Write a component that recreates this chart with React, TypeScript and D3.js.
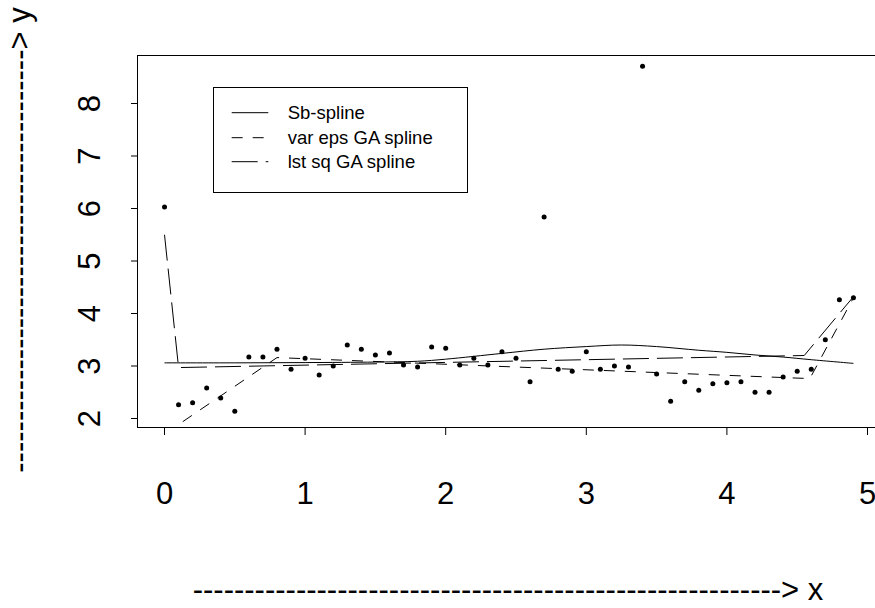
import React from 'react';
import * as d3 from 'd3';

// ---- data ----
const pointX = [0, 0.1, 0.2, 0.3, 0.4, 0.5, 0.6, 0.7, 0.8, 0.9,
  1.0, 1.1, 1.2, 1.3, 1.4, 1.5, 1.6, 1.7, 1.8, 1.9,
  2.0, 2.1, 2.2, 2.3, 2.4, 2.5, 2.6, 2.7, 2.8, 2.9,
  3.0, 3.1, 3.2, 3.3, 3.4, 3.5, 3.6, 3.7, 3.8, 3.9,
  4.0, 4.1, 4.2, 4.3, 4.4, 4.5, 4.6, 4.7, 4.8, 4.9];
const pointY = [6.03, 2.26, 2.30, 2.58, 2.39, 2.14, 3.17, 3.17, 3.32, 2.94,
  3.15, 2.83, 3.00, 3.40, 3.32, 3.21, 3.25, 3.02, 2.98, 3.36,
  3.34, 3.02, 3.15, 3.02, 3.27, 3.15, 2.70, 5.84, 2.94, 2.90,
  3.27, 2.94, 3.00, 2.98, 8.71, 2.85, 2.33, 2.70, 2.54, 2.66,
  2.68, 2.70, 2.50, 2.50, 2.79, 2.90, 2.94, 3.50, 4.26, 4.30];

const sbX = [0, 0.5, 1.0, 1.5, 1.8, 2.0, 2.4, 2.7, 3.0, 3.25, 3.5, 3.8, 4.0, 4.2, 4.4, 4.6, 4.9];
const sbY = [3.06, 3.06, 3.065, 3.075, 3.09, 3.13, 3.24, 3.32, 3.37, 3.40, 3.37, 3.30, 3.26, 3.21, 3.17, 3.12, 3.05];

const varEpsX = [0.13, 0.8, 4.59, 4.9];
const varEpsY = [1.94, 3.16, 2.76, 4.30];

const lstSqX = [0, 0.1, 4.55, 4.9];
const lstSqY = [5.5, 2.97, 3.20, 4.32];

const xTicks = [0, 1, 2, 3, 4, 5];
const yTicks = [2, 3, 4, 5, 6, 7, 8];

const legendLabels = ['Sb-spline', 'var eps GA spline', 'lst sq GA spline'];
const legendDashes = ['none', '11 10', '26 8'];

const xLabel = '-'.repeat(57) + '> x';
const yLabel = '-'.repeat(41) + '> y';

// ---- layout ----
const W = 875, H = 608;
const box = { l: 137, t: 55, r: 879, b: 427 };
const FONT = "'Liberation Sans', Arial, Helvetica, sans-serif";

export default function App() {
  const x = d3.scaleLinear().domain([0, 5]).range([164.5, 867.5]);
  const y = d3.scaleLinear().domain([2, 8]).range([418.5, 103.5]);

  const line = d3.line<[number, number]>().x(d => x(d[0])).y(d => y(d[1]));
  const smooth = d3.line<[number, number]>().x(d => x(d[0])).y(d => y(d[1])).curve(d3.curveCatmullRom);

  const sbPath = smooth(sbX.map((v, i) => [v, sbY[i]] as [number, number])) || '';
  const varPath = line(varEpsX.map((v, i) => [v, varEpsY[i]] as [number, number])) || '';
  const lstPath = line(lstSqX.map((v, i) => [v, lstSqY[i]] as [number, number])) || '';

  const legendRows = [112.7, 137.7, 161.7];

  return (
    <svg width={W} height={H} style={{ position: 'absolute', left: 0, top: 0, background: '#fff' }}
      fontFamily={FONT}>
      <rect x={0} y={0} width={W} height={H} fill="#fff" />
      <defs>
        <clipPath id="plotclip">
          <rect x={box.l} y={box.t} width={box.r - box.l} height={box.b - box.t} />
        </clipPath>
      </defs>

      {/* plot box */}
      <rect x={box.l + 0.5} y={box.t + 0.5} width={box.r - box.l} height={box.b - box.t}
        fill="none" stroke="#000" strokeWidth={1} />

      {/* x axis ticks & labels */}
      {xTicks.map(t => (
        <g key={'xt' + t}>
          <line x1={x(t)} x2={x(t)} y1={box.b} y2={box.b + 8} stroke="#000" strokeWidth={1} />
          <text x={x(t)} y={504} fontSize={31} textAnchor="middle">{t}</text>
        </g>
      ))}

      {/* y axis ticks & labels */}
      {yTicks.map(t => (
        <g key={'yt' + t}>
          <line x1={box.l - 6} x2={box.l} y1={y(t)} y2={y(t)} stroke="#000" strokeWidth={1} />
          <text transform={`translate(100,${y(t)}) rotate(-90)`} fontSize={31} textAnchor="middle">{t}</text>
        </g>
      ))}

      {/* axis titles */}
      <text x={508} y={600} fontSize={31} textAnchor="middle">{xLabel}</text>
      <text transform="translate(30,240) rotate(-90)" fontSize={31} textAnchor="middle">{yLabel}</text>

      {/* lines and points */}
      <g clipPath="url(#plotclip)">
        <path d={sbPath} fill="none" stroke="#000" strokeWidth={1} />
        <path d={varPath} fill="none" stroke="#000" strokeWidth={1} strokeDasharray="11 10" />
        <path d={lstPath} fill="none" stroke="#000" strokeWidth={1} strokeDasharray="26 8" />
        {pointX.map((v, i) => (
          <circle key={'p' + i} cx={x(v)} cy={y(pointY[i])} r={2.5} fill="#000" />
        ))}
      </g>

      {/* legend */}
      <rect x={213.5} y={87.5} width={254} height={105} fill="#fff" stroke="#000" strokeWidth={1} />
      {legendLabels.map((lab, i) => (
        <g key={'lg' + i}>
          <line x1={231.7} x2={268.3} y1={legendRows[i]} y2={legendRows[i]} stroke="#000" strokeWidth={1}
            strokeDasharray={legendDashes[i] === 'none' ? undefined : legendDashes[i]} />
          <text x={287.7} y={legendRows[i] + 6.6} fontSize={18.5}>{lab}</text>
        </g>
      ))}
    </svg>
  );
}
